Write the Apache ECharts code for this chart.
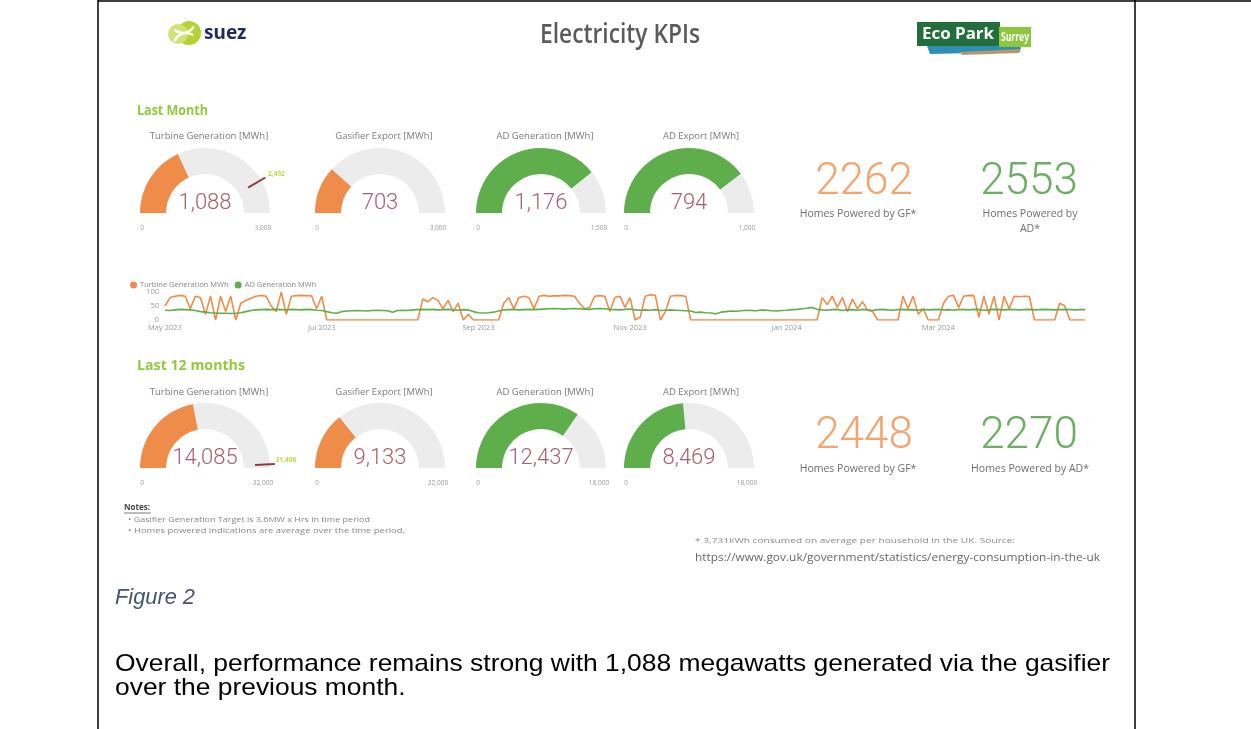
<!DOCTYPE html>
<html><head><meta charset="utf-8">
<script src="https://cdn.jsdelivr.net/npm/echarts@6/dist/echarts.min.js"></script>
<style>html,body{margin:0;padding:0;background:#fff}#c{width:1251px;height:729px}</style>
</head><body><div id="c"></div>
<script>
// ---------------- DATA ----------------
const gaugeTitles = ['Turbine Generation [MWh]', 'Gasifier Export [MWh]', 'AD Generation [MWh]', 'AD Export [MWh]'];
const lastMonthValues = [1088, 703, 1176, 794];
const lastMonthMax = [3000, 3000, 1500, 1000];
const lastMonthTarget = 2492;
const last12Values = [14085, 9133, 12437, 8469];
const last12Max = [32000, 32000, 18000, 18000];
const last12Target = 31406;
const homesLastMonth = [2262, 2553];
const homesLast12 = [2448, 2270];
const homesLabelsLastMonth = ['Homes Powered by GF*', 'Homes Powered by\nAD*'];
const homesLabelsLast12 = ['Homes Powered by GF*', 'Homes Powered by AD*'];
const seriesNames = ['Turbine Generation MWh', 'AD Generation MWh'];
const lineStartDate = '2023-05-01';
const lineStepDays = 2;
const turbineMWh = [
  50,80,85,88,85,40,85,80,20,85,0,85,30,85,0,60,70,78,85,88,
  85,50,30,100,20,85,87,88,87,86,40,85,0,0,0,0,0,0,0,0,
  0,0,0,0,0,0,0,0,0,0,0,75,65,80,70,40,70,30,60,0,
  20,0,0,0,0,0,0,60,80,40,80,85,80,40,85,88,85,87,86,88,
  87,85,60,40,45,85,87,85,30,80,85,45,80,0,10,85,90,88,0,30,
  85,88,87,85,0,0,0,0,0,0,0,0,0,0,0,0,0,0,0,0,
  0,0,0,0,0,0,0,0,0,0,80,55,85,45,80,30,75,40,65,35,
  30,0,0,0,0,0,85,40,85,20,40,0,0,0,60,85,88,45,85,88,
  87,10,85,20,85,0,85,40,85,83,85,84,0,0,0,0,0,60,50,0,0,0,0
];
const adMWh = [
  35,34,36,38,37,36,34,30,
  28,26,25,24,24,23,24,26,30,
  34,36,37,38,37,38,37,36,38,37,36,38,37,35,34,
  30,26,24,30,
  32,33,34,33,32,34,35,34,33,28,34,35,34,36,37,
  38,37,38,36,37,38,36,35,37,36,
  30,26,25,26,28,32,
  36,37,38,36,37,38,37,38,39,40,41,40,39,40,
  41,40,39,38,40,41,40,38,37,36,38,39,36,
  35,36,35,37,34,35,36,35,34,33,32,
  27,28,26,25,22,28,
  30,32,31,33,35,34,33,36,35,33,32,34,35,37,38,40,42,45,38,
  36,35,37,38,34,36,37,35,38,36,
  34,37,38,36,35,37,38,36,37,35,
  38,36,37,38,36,37,35,38,37,36,
  38,37,35,36,38,37,36,38,37,36,
  37,38,36,37,38,37,36,37,38,37,
  36,37,37
];
const yAxisMax = 100, yAxisInterval = 50;
const monthNames = ['Jan','Feb','Mar','Apr','May','Jun','Jul','Aug','Sep','Oct','Nov','Dec'];

// ---------------- STYLE / LAYOUT ----------------
const ORANGE = '#F08C4A', GREEN = '#5EAF4C', TRACK = '#ECECEC';
const VALUE_C = '#A9606A', LIME = '#94C83D';
const gaugeColors = [ORANGE, ORANGE, GREEN, GREEN];
const GX = [205, 380, 541, 689];
const R = 65, W = 26;
const SANS = "'Open Sans', 'Noto Sans', sans-serif";
const NUMF = "Roboto, 'Open Sans', sans-serif";
const ARIAL = "'Liberation Sans', Arial, sans-serif";

const mctx = document.createElement('canvas').getContext('2d');
function fitScale(text, font, w) { mctx.font = font; return w / mctx.measureText(text).width; }
function fmt(v) { return Number(v).toLocaleString('en-US'); }

const dates = turbineMWh.map((_, i) => {
  const d = new Date(Date.parse(lineStartDate + 'T00:00:00Z') + i * lineStepDays * 86400000);
  return d.toISOString().slice(0, 10);
});

function T(x, y, text, o) {
  o = o || {};
  const el = { type: 'text', x: x, y: y, silent: true, style: {
    text: text, fill: o.fill || '#777', fontSize: o.size || 10, fontFamily: o.family || SANS,
    fontWeight: o.weight || 'normal', fontStyle: o.style || 'normal',
    align: o.align || 'center', verticalAlign: o.valign || 'middle', lineHeight: o.lh
  }};
  if (o.fitW) {
    const f = `${o.style || 'normal'} ${o.weight || 'normal'} ${o.size || 10}px ${o.family || SANS}`;
    el.scaleX = fitScale(text.split('\n')[0], f, o.fitW);
  } else if (o.sx) el.scaleX = o.sx;
  return el;
}
function L(x1, y1, x2, y2, c, w) {
  return { type: 'line', silent: true, shape: { x1, y1, x2, y2 }, style: { stroke: c, lineWidth: w } };
}

const rows = [
  { label: 'Last Month', labelW: 71, labelY: 111, titleY: 136, cy: 213, values: lastMonthValues, max: lastMonthMax,
    target: lastMonthTarget, nums: homesLastMonth, homes: homesLabelsLastMonth, numY: 183, homesY: 207 },
  { label: 'Last 12 months', labelW: 108, labelY: 366, titleY: 392, cy: 468, values: last12Values, max: last12Max,
    target: last12Target, nums: homesLast12, homes: homesLabelsLast12, numY: 437, homesY: 462 }
];

const series = [];
const graphics = [];

// page frame
graphics.push(L(98, 0, 98, 729, '#000', 1.5));
graphics.push(L(1135, 0, 1135, 729, '#000', 1.5));
graphics.push(L(98, 1, 1251, 1, '#000', 1.5));

// header: suez logo
graphics.push({ type: 'circle', silent: true, shape: { cx: 189, cy: 33, r: 12 }, style: { fill: '#B3D335' } });
graphics.push({ type: 'circle', silent: true, shape: { cx: 178, cy: 34, r: 10 }, style: { fill: '#CFE37A' } });
graphics.push({ type: 'arc', silent: true, shape: { cx: 186, cy: 45, r: 12, startAngle: Math.PI * 1.1, endAngle: Math.PI * 1.7 }, style: { stroke: '#fff', lineWidth: 2.4, fill: 'none' } });
graphics.push({ type: 'arc', silent: true, shape: { cx: 183, cy: 21, r: 12, startAngle: Math.PI * 0.15, endAngle: Math.PI * 0.75 }, style: { stroke: '#fff', lineWidth: 2.4, fill: 'none' } });
graphics.push(T(204, 34, 'suez', { size: 19, weight: 'bold', fill: '#1F2A5E', align: 'left', family: "'Noto Sans', sans-serif" }));
// title
graphics.push(T(620, 35, 'Electricity KPIs', { size: 27, weight: 600, fill: '#5B5B5B', fitW: 160 }));
// Eco Park Surrey logo
graphics.push({ type: 'polygon', silent: true, shape: { points: [[926, 43], [1022, 40], [1020, 52], [930, 54]] }, style: { fill: '#2E8FB5' } });
graphics.push({ type: 'polygon', silent: true, shape: { points: [[960, 52], [1020, 49], [1019, 53], [962, 55]] }, style: { fill: '#B49A6A' } });
graphics.push({ type: 'rect', silent: true, shape: { x: 917, y: 22, width: 83, height: 24 }, style: { fill: '#226E3C' } });
graphics.push({ type: 'rect', silent: true, shape: { x: 999, y: 27, width: 32, height: 20 }, style: { fill: '#8DC63F' } });
graphics.push(T(958, 34, 'Eco Park', { size: 16, weight: 'bold', fill: '#fff', fitW: 72 }));
graphics.push(T(1015, 37.5, 'Surrey', { size: 12, weight: 'bold', fill: '#fff', fitW: 28 }));

rows.forEach((row, ri) => {
  graphics.push(T(137, row.labelY, row.label, { size: 15, weight: 'bold', fill: LIME, align: 'left', fitW: row.labelW }));
  row.values.forEach((v, gi) => {
    const cx = GX[gi];
    graphics.push(T(cx + (gi === 3 ? 12 : 4), row.titleY, gaugeTitles[gi], { size: 9.5, fill: '#7A7A7A' }));
    graphics.push(T(cx - 63, row.cy + 15, '0', { size: 6.5, fill: '#999' }));
    graphics.push(T(cx + 58, row.cy + 15, fmt(row.max[gi]), { size: 6.5, fill: '#999' }));
    series.push({
      type: 'gauge', center: [cx, row.cy], radius: R, startAngle: 180, endAngle: 0,
      min: 0, max: row.max[gi], splitNumber: 1, animation: false, silent: true,
      axisLine: { lineStyle: { width: W, color: [[1, TRACK]] } },
      progress: { show: true, width: W, itemStyle: { color: gaugeColors[gi] } },
      pointer: { show: false }, anchor: { show: false }, axisTick: { show: false },
      splitLine: { show: false }, axisLabel: { show: false }, title: { show: false },
      detail: { offsetCenter: [0, -10], fontSize: 22, fontFamily: NUMF, fontWeight: 300, color: VALUE_C, formatter: fmt },
      data: [{ value: v }]
    });
  });
  // target marker on turbine gauge
  const th = Math.PI * (1 - row.target / row.max[0]);
  series.push({
    type: 'gauge', center: [GX[0], row.cy], radius: R, startAngle: 180, endAngle: 0,
    min: 0, max: row.max[0], animation: false, silent: true,
    axisLine: { show: false }, progress: { show: false }, axisTick: { show: false },
    splitLine: { show: false }, axisLabel: { show: false }, title: { show: false }, anchor: { show: false },
    pointer: { show: true, icon: 'rect', length: 20, width: 2, offsetCenter: [0, -50], itemStyle: { color: '#8E3A45' } },
    detail: { offsetCenter: [Math.cos(th) * (R + 4) + 12, -Math.sin(th) * (R + 4) - 4], fontSize: 6.5, color: '#C2D84A', fontFamily: SANS, formatter: fmt },
    data: [{ value: row.target }]
  });
  // big numbers
  graphics.push(T(864, row.numY, String(row.nums[0]), { size: 44, weight: 300, family: NUMF, fill: '#F3A46F' }));
  graphics.push(T(1029, row.numY, String(row.nums[1]), { size: 44, weight: 300, family: NUMF, fill: '#6DAE63' }));
  graphics.push(T(858, row.homesY, row.homes[0], { size: 10.5, fill: '#6E6E6E', valign: 'top', lh: 15 }));
  graphics.push(T(1030, row.homesY, row.homes[1], { size: 10.5, fill: '#6E6E6E', valign: 'top', lh: 15 }));
});

// notes
graphics.push(T(124, 508, 'Notes:', { size: 8, weight: 'bold', fill: '#444', align: 'left' }));
graphics.push(L(124, 513, 151, 513, '#555', 0.8));
graphics.push(T(128, 520, '\u2022 Gasifier Generation Target is 3.6MW x Hrs in time period', { size: 7, fill: '#888', align: 'left', fitW: 242 }));
graphics.push(T(128, 531, '\u2022 Homes powered indications are average over the time period.', { size: 7, fill: '#888', align: 'left', fitW: 277 }));
// footnote
graphics.push(T(695, 541, '* 3,731kWh consumed on average per household in the UK. Source:', { size: 7.5, fill: '#8A8A8A', align: 'left', fitW: 320 }));
graphics.push(T(695, 558, 'https://www.gov.uk/government/statistics/energy-consumption-in-the-uk', { size: 10, fill: '#666', align: 'left', fitW: 405 }));
// caption & body
graphics.push(T(115, 598, 'Figure 2', { size: 22, style: 'italic', family: ARIAL, fill: '#44546A', align: 'left', fitW: 80 }));
const body1 = 'Overall, performance remains strong with 1,088 megawatts generated via the gasifier';
const bodyScale = fitScale(body1, `normal normal 24px ${ARIAL}`, 995);
graphics.push(T(115, 664, body1, { size: 24, family: ARIAL, fill: '#000', align: 'left', sx: bodyScale }));
graphics.push(T(115, 688, 'over the previous month.', { size: 24, family: ARIAL, fill: '#000', align: 'left', sx: bodyScale }));

// line chart
series.push({ type: 'line', name: seriesNames[0], data: turbineMWh, showSymbol: false, animation: false,
  lineStyle: { width: 1.6, color: ORANGE }, itemStyle: { color: ORANGE } });
series.push({ type: 'line', name: seriesNames[1], data: adMWh, showSymbol: false, animation: false,
  lineStyle: { width: 1.6, color: GREEN }, itemStyle: { color: GREEN } });

const option = {
  backgroundColor: '#fff',
  animation: false,
  legend: { data: seriesNames, left: 125, top: 276, icon: 'circle', itemWidth: 7, itemHeight: 7, itemGap: 6,
    textStyle: { fontSize: 7.5, color: '#888', fontFamily: SANS, padding: [0, 0, 0, -2] } },
  grid: { left: 165, right: 166, top: 292, height: 28 },
  xAxis: { type: 'category', data: dates, boundaryGap: false,
    axisLine: { show: false }, axisTick: { show: false }, splitLine: { show: false },
    axisLabel: { color: '#999', fontSize: 7.5, fontFamily: SANS, margin: 4,
      interval: (i, v) => { const d = new Date(v + 'T00:00:00Z'); return d.getUTCDate() <= 2 && d.getUTCMonth() % 2 === 0; },
      formatter: v => { const d = new Date(v + 'T00:00:00Z'); return monthNames[d.getUTCMonth()] + ' ' + d.getUTCFullYear(); } } },
  yAxis: { type: 'value', min: 0, max: yAxisMax, interval: yAxisInterval,
    axisLine: { show: false }, axisTick: { show: false }, splitLine: { show: false },
    axisLabel: { color: '#999', fontSize: 7.5, fontFamily: SANS, margin: 6 } },
  graphic: graphics,
  series: series
};
const chart = echarts.init(document.getElementById('c'));
chart.setOption(option);
</script></body></html>
